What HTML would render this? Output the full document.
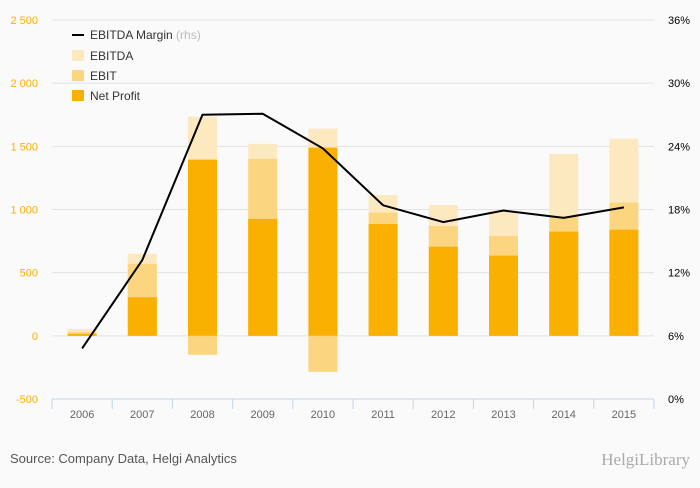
<!DOCTYPE html>
<html><head><meta charset="utf-8"><style>
body{margin:0;background:#fafafa;font-family:"Liberation Sans",sans-serif}
</style></head><body>
<svg id="c" width="700" height="483" xmlns="http://www.w3.org/2000/svg">
<rect width="700" height="483" fill="#fafafa"/>
<g id="grid"></g><g id="bars"></g><g id="line"></g><g id="axes"></g>
<g font-size="12" fill="#333">
<line x1="72" y1="35" x2="84" y2="35" stroke="#000" stroke-width="2"/>
<text x="90" y="39">EBITDA Margin <tspan fill="#bbb">(rhs)</tspan></text>
<rect x="72" y="50" width="12" height="11" fill="#fde9c0"/><text x="90" y="60">EBITDA</text>
<rect x="72" y="70" width="12" height="11" fill="#fcd581"/><text x="90" y="80">EBIT</text>
<rect x="72" y="90" width="12" height="11" fill="#f9b000"/><text x="90" y="100">Net Profit</text>
</g>
<text x="10" y="463" font-size="13" fill="#555">Source: Company Data, Helgi Analytics</text>
<text x="690" y="465" font-size="17" fill="#aaa" text-anchor="end" font-family="Liberation Serif,serif">HelgiLibrary</text>
</svg>
<script>
const categories=["2006","2007","2008","2009","2010","2011","2012","2013","2014","2015"];
const ebitda=[55,650,1735,1520,1640,1115,1035,990,1440,1560];
const ebit=[30,570,-150,1400,-285,975,870,790,950,1055];
const netProfit=[15,305,1395,925,1490,885,705,635,825,840];
const margin=[4.8,13.2,27.0,27.1,23.8,18.4,16.8,17.9,17.2,18.2];
const leftTicks=[-500,0,500,1000,1500,2000,2500];
const rightTicks=[0,6,12,18,24,30,36];
const NS="http://www.w3.org/2000/svg";
const X0=52,X1=654,YT=20,YB=399;
const step=(X1-X0)/categories.length;
const yL=v=>YB-(v+500)/3000*(YB-YT);
const yR=v=>YB-v/36*(YB-YT);
const xc=i=>X0+step*(i+0.5);
function mk(p,t,a){const e=document.createElementNS(NS,t);for(const k in a)e.setAttribute(k,a[k]);p.appendChild(e);return e;}
const G=document.getElementById('grid'),B=document.getElementById('bars'),L=document.getElementById('line'),A=document.getElementById('axes');
leftTicks.forEach((v,i)=>{
 if(v>-500){const g=mk(G,'line',{x1:X0,x2:X1,y1:yL(v),y2:yL(v),stroke:'#e2e2e2'});
 
 }
 const t=mk(A,'text',{x:38,y:yL(v)+4,'text-anchor':'end','font-size':11,fill:'#f9b000'});
 t.textContent=v.toString().replace(/(\d)(\d{3})$/,'$1 $2');
 
 
});
rightTicks.forEach(v=>{
 const t=mk(A,'text',{x:668,y:yR(v)+4,'font-size':11,fill:'#000'});
 t.textContent=v+'%';
 
 
});
const ax=mk(A,'line',{x1:X0,x2:X1,y1:YB,y2:YB,stroke:'#c8d4e8'});


for(let i=0;i<=categories.length;i++){const tk=mk(A,'line',{x1:X0+step*i,x2:X0+step*i,y1:YB,y2:YB+10,stroke:'#c8d4e8'});
 
 }
categories.forEach((c,i)=>{
 const t=mk(A,'text',{x:xc(i),y:YB+19,'text-anchor':'middle','font-size':11,fill:'#666'});
 t.textContent=c;
 
 
});
const bw=29,z=yL(0);
[[ebitda,'#fde9c0','bar-ebitda'],[ebit,'#fcd581','bar-ebit'],[netProfit,'#f9b000','bar-net-profit']].forEach(([arr,col,nm])=>{
 arr.forEach((v,i)=>{const y=yL(v);
 const r=mk(B,'rect',{x:xc(i)-bw/2,y:Math.min(y,z),width:bw,height:Math.abs(z-y),fill:col});
 
 });
});
const pl=mk(L,'polyline',{points:margin.map((v,i)=>xc(i)+','+yR(v)).join(' '),fill:'none',stroke:'#000','stroke-width':2});


</script>
</body></html>
